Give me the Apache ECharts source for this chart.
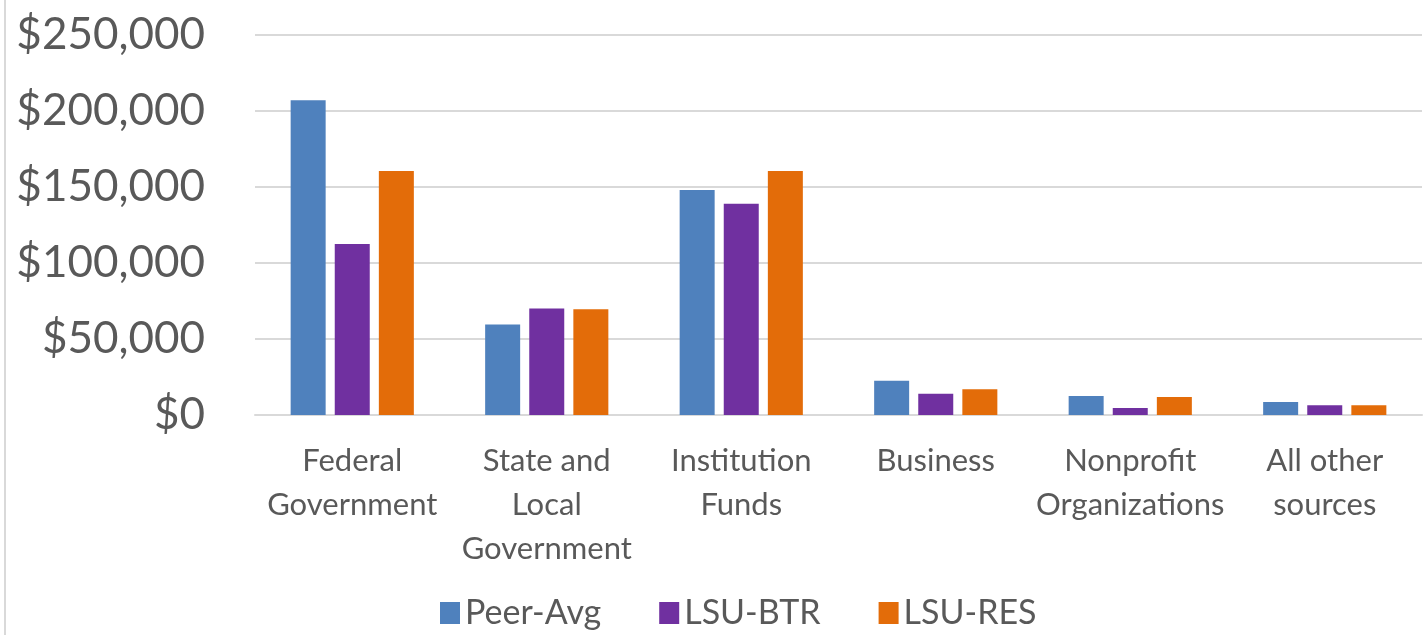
<!DOCTYPE html>
<html>
<head>
<meta charset="utf-8">
<script src="https://cdn.jsdelivr.net/npm/echarts@6/dist/echarts.min.js"></script>
<style>html,body{margin:0;padding:0;background:#fff;}#c{width:1426px;height:635px;}</style>
</head>
<body>
<div id="c"></div>
<script>
const categories = ['Federal\nGovernment', 'State and\nLocal\nGovernment', 'Institution\nFunds', 'Business', 'Nonprofit\nOrganizations', 'All other\nsources'];
const seriesNames = ['Peer-Avg', 'LSU-BTR', 'LSU-RES'];
const peerAvg = [207000, 59500, 148000, 22500, 12500, 8600];
const lsuBtr = [112500, 70000, 139000, 14000, 4600, 6400];
const lsuRes = [160500, 69500, 160500, 17000, 11800, 6400];
const colors = ['#4F81BD', '#7030A0', '#E36C09'];
const yMin = 0, yMax = 250000, yInterval = 50000;

const font = 'Lato, "Open Sans", sans-serif';
const chart = echarts.init(document.getElementById('c'), null, {renderer: 'canvas'});
const values = [peerAvg, lsuBtr, lsuRes];
chart.setOption({
  animation: false,
  backgroundColor: '#fff',
  color: colors,
  textStyle: {fontFamily: font},
  graphic: [{type: 'line', shape: {x1: 5, y1: 0, x2: 5, y2: 635}, style: {stroke: '#d9d9d9', lineWidth: 2}}],
  grid: {left: 255, right: 4, top: 35, bottom: 220, containLabel: false},
  legend: {
    data: seriesNames, bottom: 0, left: 435, itemWidth: 20, itemHeight: 22, itemGap: 58,
    icon: 'rect',
    textStyle: {fontSize: 34, color: '#595959', fontFamily: font}
  },
  xAxis: {
    type: 'category', data: categories,
    axisTick: {show: false},
    axisLine: {lineStyle: {color: '#d9d9d9', width: 2}},
    axisLabel: {fontSize: 31, color: '#595959', lineHeight: 44, margin: 24, interval: 0, fontFamily: font}
  },
  yAxis: {
    type: 'value', min: yMin, max: yMax, interval: yInterval,
    axisLine: {show: false}, axisTick: {show: false},
    splitLine: {lineStyle: {color: '#d9d9d9', width: 2}},
    axisLabel: {fontSize: 44, color: '#595959', margin: 50, fontFamily: font,
      formatter: v => '$' + v.toLocaleString('en-US')}
  },
  series: seriesNames.map((n, i) => ({
    name: n, type: 'bar', data: values[i], barWidth: 35, barGap: '26%',
    itemStyle: {color: colors[i]}
  }))
});
</script>
</body>
</html>
